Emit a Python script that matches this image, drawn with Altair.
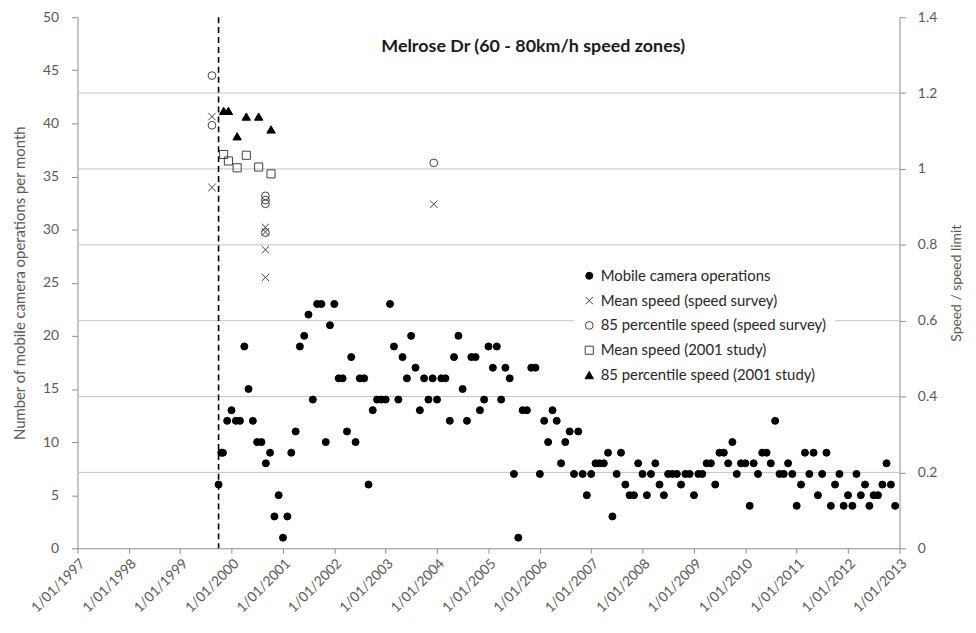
import altair as alt
import pandas as pd

TITLE = "Melrose Dr (60 - 80km/h speed zones)"
SERIES = [
    "Mobile camera operations",
    "Mean speed (speed survey)",
    "85 percentile speed (speed survey)",
    "Mean speed (2001 study)",
    "85 percentile speed (2001 study)",
]

# x-axis tick years and y-axis ticks
tick_years = list(range(1997, 2014))
left_ticks = [0, 5, 10, 15, 20, 25, 30, 35, 40, 45, 50]
right_ticks = [0, 0.2, 0.4, 0.6, 0.8, 1.0, 1.2, 1.4]
grid_vals = [0.2, 0.4, 0.6, 0.8, 1.0, 1.2]

# start of the camera program (dashed line)
program_start = ["1999-10-01"]

# Mobile camera operations per month
mobile_first_dates = ["1999-10-01", "1999-10-20"]
mobile_counts_1999 = [6, 9, 9, 12]
mobile_counts_2000 = [13, 12, 12, 19, 15, 12, 10, 10, 8, 9, 3, 5]
mobile_counts_2001 = [1, 3, 9, 11, 19, 20, 22, 14, 23, 23, 10, 21]
mobile_counts_2002 = [23, 16, 16, 11, 18, 10, 16, 16, 6, 13, 14, 14]
mobile_counts_2003 = [14, 23, 19, 14, 18, 16, 20, 17, 13, 16, 14, 16]
mobile_counts_2004 = [14, 16, 16, 12, 18, 20, 15, 12, 18, 18, 13, 14]
mobile_counts_2005 = [19, 17, 19, 14, 17, 16, 7, 1, 13, 13, 17, 17]
mobile_counts_2006 = [7, 12, 10, 13, 12, 8, 10, 11, 7, 11, 7, 5]
mobile_counts_2007 = [7, 8, 8, 8, 9, 3, 7, 9, 6, 5, 5, 8]
mobile_counts_2008 = [7, 5, 7, 8, 6, 5, 7, 7, 7, 6, 7, 7]
mobile_counts_2009 = [5, 7, 7, 8, 8, 6, 9, 9, 8, 10, 7, 8]
mobile_counts_2010 = [8, 4, 8, 7, 9, 9, 8, 12, 7, 7, 8, 7]
mobile_counts_2011 = [4, 6, 9, 7, 9, 5, 7, 9, 4, 6, 7, 4]
mobile_counts_2012 = [5, 4, 7, 5, 6, 4, 5, 5, 6, 8, 6, 4]

# Speed survey (speed / speed limit)
survey_dates = ["1999-08-15", "1999-08-15", "2000-08-29", "2000-08-29",
                "2000-08-29", "2000-08-29", "2003-12-09"]
survey_mean = [1.138, 0.951, 0.846, 0.834, 0.787, 0.714, 0.907]
survey_p85 = [1.246, 1.115, 0.929, 0.918, 0.908, 0.832, 1.016]

# 2001 study (speed / speed limit)
study_dates = ["1999-11-06", "1999-12-10", "2000-02-10", "2000-04-15",
               "2000-07-12", "2000-10-08"]
study_mean = [1.038, 1.021, 1.003, 1.036, 1.005, 0.987]
study_p85 = [1.153, 1.153, 1.086, 1.138, 1.138, 1.104]

# ---------------------------------------------------------------- tables
monthly_dates = pd.date_range("1999-11-01", "2012-12-01", freq="MS").strftime("%Y-%m-%d").tolist()
mobile_dates = mobile_first_dates + monthly_dates
mobile_counts = (mobile_counts_1999 + mobile_counts_2000 + mobile_counts_2001 + mobile_counts_2002
                 + mobile_counts_2003 + mobile_counts_2004 + mobile_counts_2005 + mobile_counts_2006
                 + mobile_counts_2007 + mobile_counts_2008 + mobile_counts_2009 + mobile_counts_2010
                 + mobile_counts_2011 + mobile_counts_2012)
mobile_df = pd.DataFrame({"date": mobile_dates, "count": mobile_counts, "series": SERIES[0]})

speed_df = pd.concat([
    pd.DataFrame({"date": survey_dates, "value": survey_mean, "series": SERIES[1]}),
    pd.DataFrame({"date": survey_dates, "value": survey_p85, "series": SERIES[2]}),
    pd.DataFrame({"date": study_dates, "value": study_mean, "series": SERIES[3]}),
    pd.DataFrame({"date": study_dates, "value": study_p85, "series": SERIES[4]}),
], ignore_index=True)

grid_df = pd.DataFrame({"g": grid_vals})
start_df = pd.DataFrame({"date": program_start})
title_df = pd.DataFrame({"t": [TITLE]})

FONT = "Lato"
AXIS_GREY = "#8c8c8c"
LABEL_GREY = "#595959"

x_scale = alt.Scale(
    type="utc",
    domain=[alt.DateTime(year=1997, month=1, date=1, utc=True),
            alt.DateTime(year=2013, month=1, date=1, utc=True)],
    nice=False,
)
x_axis = alt.Axis(
    values=[alt.DateTime(year=y, month=1, date=1, utc=True) for y in tick_years],
    format="%-d/%m/%Y", labelAngle=315, labelOverlap=False, grid=False, title=None,
    tickSize=5, labelPadding=3, labelFontSize=14,
)

shape_scale = alt.Scale(domain=SERIES, range=["circle", "M-1,-1L1,1M-1,1L1,-1", "circle", "square", "triangle-up"])
fill_scale = alt.Scale(domain=SERIES, range=["#000000", "transparent", "transparent", "transparent", "#000000"])
stroke_scale = alt.Scale(domain=SERIES, range=["#000000", "#404040", "#404040", "#404040", "#000000"])
size_scale = alt.Scale(domain=SERIES, range=[50, 72, 70, 80, 80])

legend = alt.Legend(
    title=None, orient="none", legendX=500, legendY=245, direction="vertical",
    fillColor="white", padding=8, labelFont=FONT, labelFontSize=15, labelColor="#262626",
    labelLimit=400, rowPadding=9, symbolStrokeWidth=1,
)

def mark_enc():
    return dict(
        shape=alt.Shape("series:N", scale=shape_scale, legend=legend),
        fill=alt.Fill("series:N", scale=fill_scale, legend=legend),
        stroke=alt.Stroke("series:N", scale=stroke_scale, legend=legend),
        size=alt.Size("series:N", scale=size_scale, legend=legend),
    )

grid = alt.Chart(grid_df).mark_rule(color="#c4c4c4", strokeWidth=1).encode(
    y=alt.Y("g:Q", scale=alt.Scale(domain=[0, 1.4], nice=False), axis=None)
)

start_line = alt.Chart(start_df).mark_rule(color="black", strokeWidth=1.6, strokeDash=[6, 4]).encode(
    x=alt.X("date:T", scale=x_scale, axis=x_axis)
)

mobile = alt.Chart(mobile_df).mark_point(opacity=1, strokeWidth=1).encode(
    x=alt.X("date:T", scale=x_scale, axis=x_axis),
    y=alt.Y("count:Q", scale=alt.Scale(domain=[0, 50], nice=False),
            axis=alt.Axis(orient="left", values=left_ticks, grid=False,
                          title="Number of mobile camera operations per month",
                          titleX=-58, titleBaseline="middle", titleAngle=270,
                          tickSize=6, labelPadding=13)),
    **mark_enc(),
)

speed = alt.Chart(speed_df).mark_point(opacity=1, strokeWidth=1).encode(
    x=alt.X("date:T", scale=x_scale, axis=x_axis),
    y=alt.Y("value:Q", scale=alt.Scale(domain=[0, 1.4], nice=False),
            axis=alt.Axis(orient="right", values=right_ticks, format="~g", grid=False,
                          title="Speed / speed limit", titleX=57, titleBaseline="middle",
                          titleAngle=270, titleFontSize=14, tickSize=6, labelPadding=12)),
    **mark_enc(),
)

title = alt.Chart(title_df).mark_text(
    font=FONT, fontSize=18, fontWeight="bold", color="#1a1a1a", align="center", baseline="middle"
).encode(x=alt.value(459), y=alt.value(30), text="t:N")

chart = alt.layer(grid, start_line, mobile, speed, title).resolve_scale(
    y="independent"
).properties(
    width=828, height=535,
    autosize=alt.AutoSizeParams(type="none"),
    padding={"left": 70, "top": 7, "right": 69, "bottom": 72},
    background="white",
).configure_view(stroke=None).configure_axis(
    labelFont=FONT, titleFont=FONT, labelFontSize=14, titleFontSize=15,
    labelColor=LABEL_GREY, titleColor=LABEL_GREY, titleFontWeight="normal",
    domainColor=AXIS_GREY, tickColor=AXIS_GREY,
)

chart.save("out.html", embed_options={"renderer": "svg", "actions": False})
